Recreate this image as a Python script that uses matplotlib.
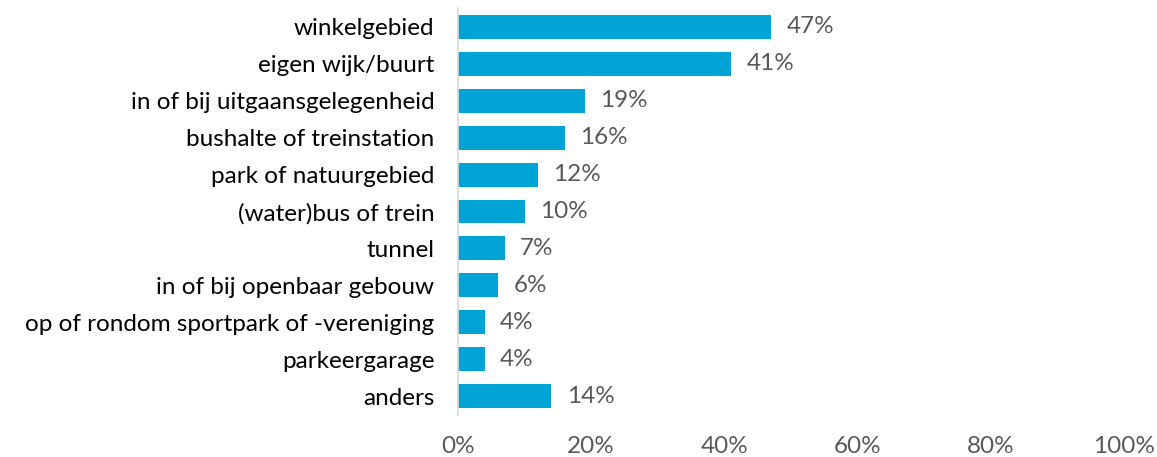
import matplotlib
matplotlib.use("Agg")
import matplotlib.pyplot as plt
from matplotlib.ticker import PercentFormatter

categories = ["winkelgebied", "eigen wijk/buurt", "in of bij uitgaansgelegenheid",
              "bushalte of treinstation", "park of natuurgebied", "(water)bus of trein",
              "tunnel", "in of bij openbaar gebouw", "op of rondom sportpark of -vereniging",
              "parkeergarage", "anders"]
values = [47, 41, 19, 16, 12, 10, 7, 6, 4, 4, 14]
xticks = [0, 20, 40, 60, 80, 100]

plt.rcParams['font.family'] = ['Lato', 'DejaVu Sans']
FS = 17.5

fig = plt.figure(figsize=(11.57, 4.57), dpi=100)
ax = fig.add_axes([458/1157, 1-414.5/457, (1124-458)/1157, (414.5-8.5)/457])
y = list(range(len(categories)))
ax.barh(y, values, height=0.65, color="#00A3D3")
for yi, v in zip(y, values):
    ax.text(v + 2.3, yi, f"{v}%", va="center", ha="left", fontsize=FS, color="#595959")
ax.set_yticks(y)
ax.set_yticklabels(categories, fontsize=FS, color="black")
ax.set_ylim(len(categories) - 0.5, -0.5)
ax.set_xlim(0, 100)
ax.set_xticks(xticks)
ax.xaxis.set_major_formatter(PercentFormatter(decimals=0))
ax.tick_params(axis='x', length=0, labelsize=FS, labelcolor="#595959", pad=15.5)
ax.tick_params(axis='y', length=0, pad=17)
for s in ["top", "right", "bottom"]:
    ax.spines[s].set_visible(False)
ax.spines["left"].set_color("#D9D9D9")
ax.spines["left"].set_linewidth(1.2)
fig.savefig("out.png", dpi=100)
